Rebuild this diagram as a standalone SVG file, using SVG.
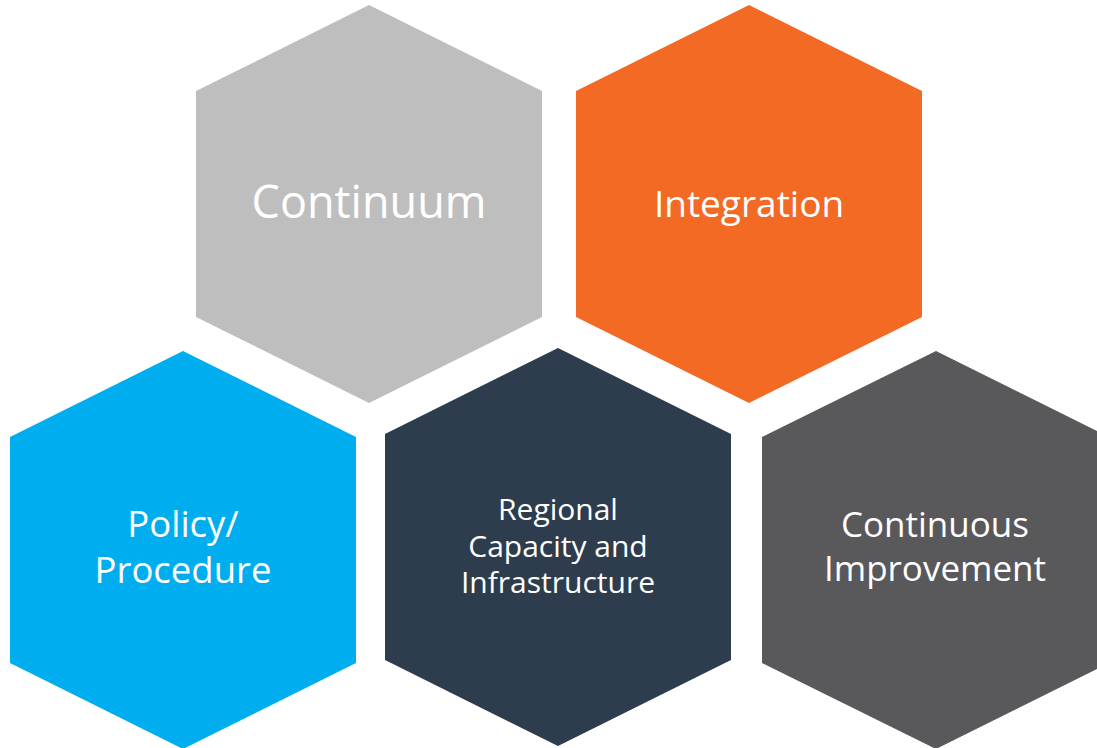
<svg xmlns="http://www.w3.org/2000/svg" width="1097" height="748" viewBox="0 0 1097 748">
<style>
text{font-family:"Open Sans","Noto Sans","DejaVu Sans",sans-serif;fill:#ffffff;text-anchor:middle}
</style>
<rect width="1097" height="748" fill="#ffffff"/>
<g id="continuum">
<polygon points="369,5 542,91 542,317 369,403 196,317 196,91" fill="#BEBEBE"/>
<text x="369" y="218" font-size="45">Continuum</text>
</g>
<g id="integration">
<polygon points="749,5 922,91 922,317 749,403 576,317 576,91" fill="#F26A24"/>
<text x="749" y="217" font-size="37">Integration</text>
</g>
<g id="policy">
<polygon points="183,351 356,437 356,663 183,749 10,663 10,437" fill="#00AEEF"/>
<text x="183" y="537" font-size="36.5">Policy/</text>
<text x="183" y="583" font-size="36.5">Procedure</text>
</g>
<g id="regional">
<polygon points="558,348 731,434 731,660 558,746 385,660 385,434" fill="#2E3D4D"/>
<text x="558" y="520" font-size="30">Regional</text>
<text x="558" y="557" font-size="30">Capacity and</text>
<text x="558" y="593" font-size="30">Infrastructure</text>
</g>
<g id="improvement">
<polygon points="936,351 1109,437 1109,663 936,749 762,663 762,437" fill="#59595B"/>
<text x="935" y="537" font-size="35">Continuous</text>
<text x="935" y="581" font-size="35">Improvement</text>
</g>
<g id="connectors"/>
</svg>
